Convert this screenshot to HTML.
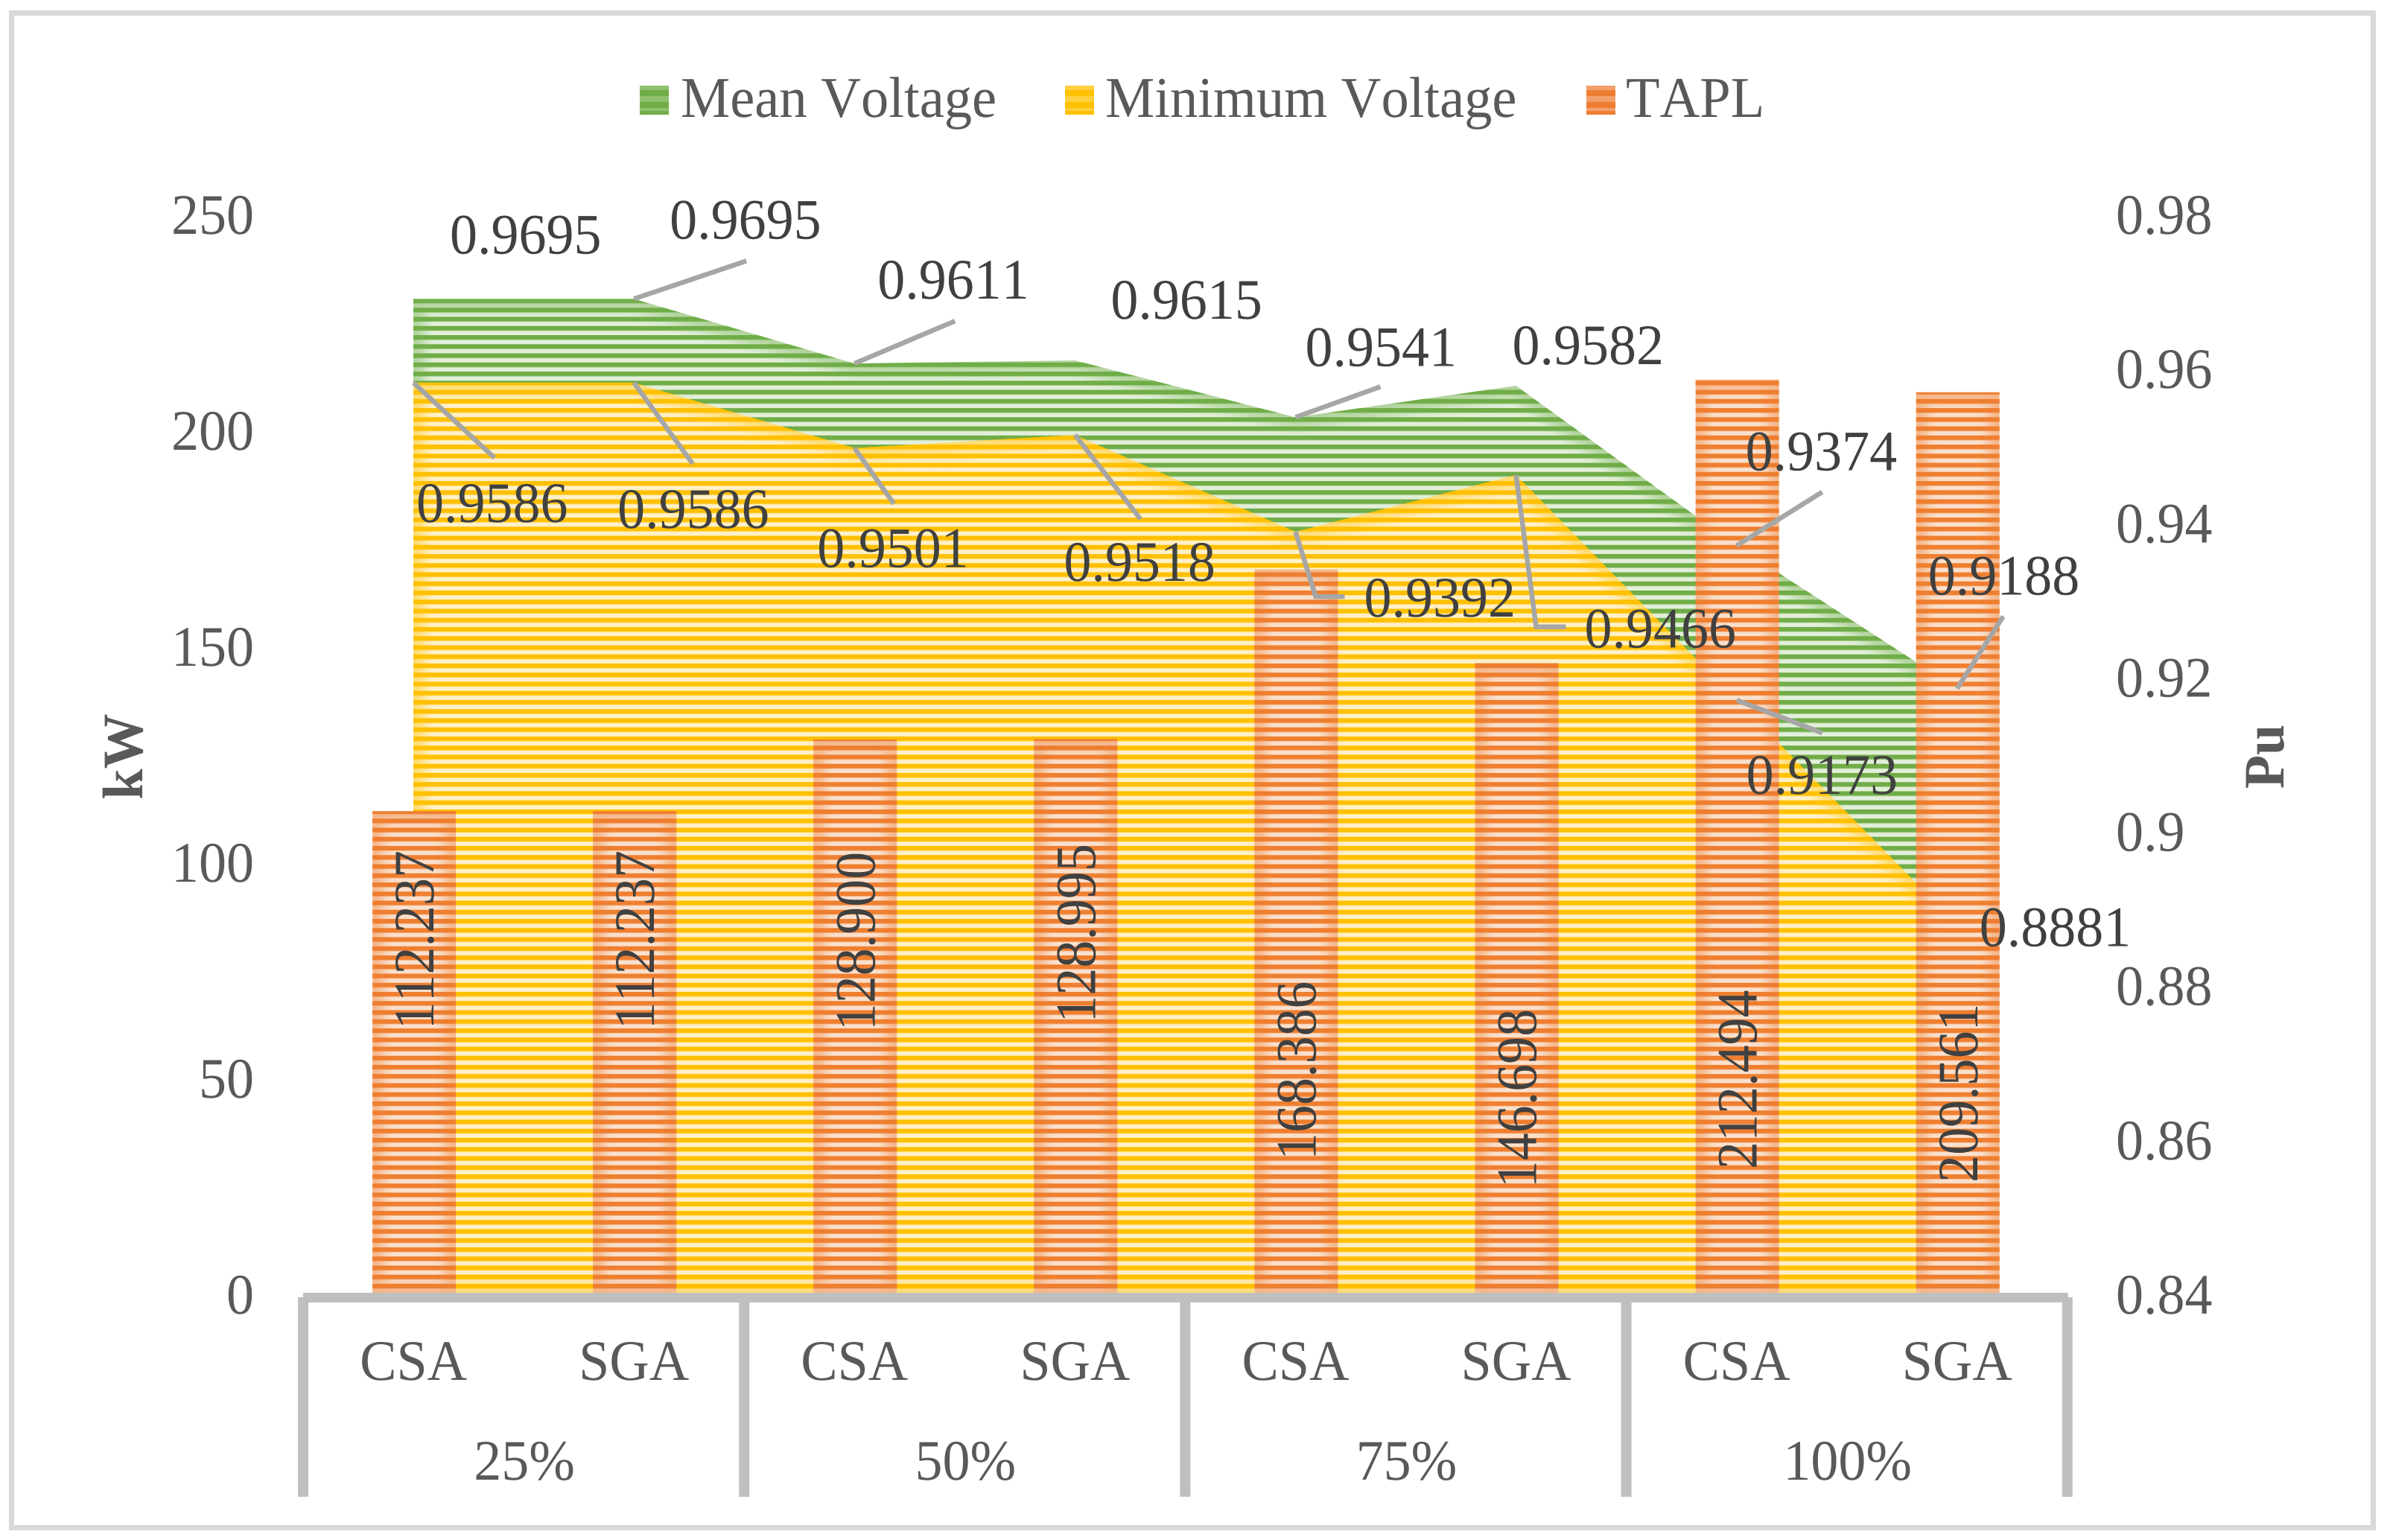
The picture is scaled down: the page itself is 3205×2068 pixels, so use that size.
<!DOCTYPE html>
<html lang="en">
<head>
<meta charset="utf-8">
<title>Mean Voltage, Minimum Voltage and TAPL</title>
<style>
html,body{margin:0;padding:0;background:#fff;}
svg{display:block;}
text{font-family:"Liberation Serif",serif;font-kerning:none;text-rendering:geometricPrecision;}
</style>
</head>
<body>
<svg id="chart" xmlns="http://www.w3.org/2000/svg" width="3205" height="2068" viewBox="0 0 3205 2068">
  <defs>
    <pattern id="stripe-green" patternUnits="userSpaceOnUse" x="0" y="9" width="20" height="12.25">
      <rect width="20" height="12.25" fill="#e2efda"/>
      <rect width="20" height="5.9" fill="#70ad47"/>
      <rect y="5.9" width="20" height="0.8" fill="#a9cf90"/>
    </pattern>
    <pattern id="stripe-yellow" patternUnits="userSpaceOnUse" x="0" y="9" width="20" height="12.25">
      <rect width="20" height="12.25" fill="#fff0c8"/>
      <rect width="20" height="5.9" fill="#ffc000"/>
      <rect y="5.9" width="20" height="0.8" fill="#ffd965"/>
    </pattern>
    <pattern id="stripe-orange" patternUnits="userSpaceOnUse" x="0" y="9" width="20" height="12.25">
      <rect width="20" height="12.25" fill="#fae0cd"/>
      <rect width="20" height="5.9" fill="#ef7f30"/>
      <rect y="5.9" width="20" height="0.8" fill="#f4b183"/>
    </pattern>
    <filter id="soft-edge" x="-30%" y="-30%" width="160%" height="160%">
      <feGaussianBlur stdDeviation="7"/>
    </filter>
  </defs>
  <rect x="15.5" y="17.5" width="3171" height="2034" fill="#ffffff" stroke="#d9d9d9" stroke-width="7"/>
  <g id="areas"></g>
  <g id="bars"></g>
  <g id="axis"></g>
  <g id="ticks"></g>
  <g id="leaders"></g>
  <g id="labels"></g>
  <g id="legend"></g>
</svg>
<script>
/* ---- chart data ---- */
const groups = ['25%', '50%', '75%', '100%'];
const methods = ['CSA', 'SGA', 'CSA', 'SGA', 'CSA', 'SGA', 'CSA', 'SGA'];
const meanVoltage = [0.9695, 0.9695, 0.9611, 0.9615, 0.9541, 0.9582, 0.9374, 0.9188];
const minVoltage = [0.9586, 0.9586, 0.9501, 0.9518, 0.9392, 0.9466, 0.9173, 0.8881];
const tapl = [112.237, 112.237, 128.900, 128.995, 168.386, 146.698, 212.494, 209.561];
const leftTicks = ['0', '50', '100', '150', '200', '250'];
const rightTicks = ['0.84', '0.86', '0.88', '0.9', '0.92', '0.94', '0.96', '0.98'];
const legendNames = ['Mean Voltage', 'Minimum Voltage', 'TAPL'];

/* ---- hand-placed label layout, relative to each mark ---- */
const meanLabelOffset = [[49,-61],[48,-81],[31,-87],[48,-56],[13,-69],[-5,-29],[12,-101],[-39,-126]];
const minLabelOffset = [[4,187],[-22,195],[-50,160],[-15,196],[92,114],[92,232],[13,126],[30,29]];
const meanLeaderOffset = [null,[[151,-51]],[[135,-57]],null,[[114,-41]],null,[[115,-72]],[[62,-97]]];
const minLeaderOffset = [[[109,101]],[[79,109]],[[53,75]],[[88,113]],[[27,87],[66,87]],[[27,204],[67,204]],[[115,44]],null];
const barLabelDrop = [173,173,271,261,673,585,940,941];

/* ---- scales ---- */
const NS = 'http://www.w3.org/2000/svg';
const X0 = 407, STEP = 296.1, Y0 = 1738, PLOT_H = 1445;
const FONT = 74, STRETCH = 1.04;
const xCat = i => X0 + STEP * (i + 0.5);
const yLeft = v => Y0 - (v / 250) * PLOT_H;
const yRight = v => Y0 - ((v - 0.84) / 0.14) * PLOT_H;

function mk(tag, attrs, parent) {
  const el = document.createElementNS(NS, tag);
  for (const k in attrs) el.setAttribute(k, attrs[k]);
  parent.appendChild(el);
  return el;
}
function txt(str, x, y, size, fill, parent, opt) {
  opt = opt || {};
  const t = opt.rotate ? `translate(${x} ${y}) rotate(-90) scale(1 ${STRETCH})` : `translate(${x} ${y}) scale(1 ${STRETCH})`;
  const el = mk('text', {transform: t, 'font-size': size, fill: fill, 'text-anchor': opt.anchor || 'start', 'font-weight': opt.weight || 'normal'}, parent);
  el.textContent = str;
  return el;
}
function softEdge(id, shapeTag, shapeAttrs, color, parent) {
  const clip = mk('clipPath', {id: id}, document.querySelector('defs'));
  mk(shapeTag, shapeAttrs, clip);
  const g = mk('g', {'clip-path': `url(#${id})`}, parent);
  
  
  const glow = Object.assign({}, shapeAttrs, {fill: 'none', stroke: color, 'stroke-width': 30, 'stroke-opacity': 0.42, filter: 'url(#soft-edge)'});
  mk(shapeTag, glow, g);
}

/* ---- areas ---- */
const areasG = document.getElementById('areas');
function areaPath(series) {
  let d = `M${xCat(0)} ${Y0}`;
  series.forEach((v, i) => { d += ` L${xCat(i)} ${yRight(v)}`; });
  return d + ` L${xCat(series.length - 1)} ${Y0} Z`;
}
const meanArea = mk('path', {d: areaPath(meanVoltage), fill: 'url(#stripe-green)'}, areasG);


softEdge('clip-mean', 'path', {d: areaPath(meanVoltage)}, '#70ad47', areasG);
const minArea = mk('path', {d: areaPath(minVoltage), fill: 'url(#stripe-yellow)'}, areasG);


softEdge('clip-min', 'path', {d: areaPath(minVoltage)}, '#ffc000', areasG);

/* ---- bars ---- */
const barsG = document.getElementById('bars');
const BAR_W = 112;
tapl.forEach((v, i) => {
  const attrs = {x: xCat(i) + 1 - BAR_W / 2, y: yLeft(v), width: BAR_W, height: Y0 - yLeft(v)};
  const bar = mk('rect', Object.assign({fill: 'url(#stripe-orange)'}, attrs), barsG);
  
  
  softEdge('clip-bar-' + i, 'rect', attrs, '#ed7d31', barsG);
});

/* ---- category axis ---- */
const axisG = document.getElementById('axis');
const axisLine = mk('rect', {x: X0, y: 1736, width: STEP * 8 + 1, height: 13, fill: '#bfbfbf'}, axisG);


for (let g = 0; g <= groups.length; g++) {
  const div = mk('rect', {x: X0 + g * STEP * 2 - 7, y: 1742, width: 14, height: 268, fill: '#bfbfbf'}, axisG);
  
  
}
methods.forEach((m, i) => {
  const t = txt(m, xCat(i), 1853, FONT, '#595959', axisG, {anchor: 'middle'});
  
  
});
groups.forEach((g, i) => {
  const t = txt(g, X0 + STEP * (2 * i + 1) + 1, 1987, FONT, '#595959', axisG, {anchor: 'middle'});
  
  
});

/* ---- value axes ---- */
const ticksG = document.getElementById('ticks');
leftTicks.forEach(s => {
  const t = txt(s, 341, yLeft(+s) + 26 - 5 * (+s / 250), FONT, '#595959', ticksG, {anchor: 'end'});
  
  
});
rightTicks.forEach(s => {
  const t = txt(s, 2841, yRight(+s) + 26 - 5 * ((+s - 0.84) / 0.14), FONT, '#595959', ticksG);
  
  
});
const kw = txt('kW', 191, 1016, FONT, '#595959', ticksG, {anchor: 'middle', rotate: true, weight: 'bold'});


const pu = txt('Pu', 3066, 1016, FONT, '#595959', ticksG, {anchor: 'middle', rotate: true, weight: 'bold'});



/* ---- leader lines and data labels ---- */
const leadersG = document.getElementById('leaders');
const labelsG = document.getElementById('labels');
function drawLeader(x, y, offsets) {
  if (!offsets) return;
  const pts = [[x, y]].concat(offsets.map(o => [x + o[0], y + o[1]]));
  const line = mk('polyline', {points: pts.map(p => p.join(',')).join(' '), fill: 'none', stroke: '#a6a6a6', 'stroke-width': 6.5}, leadersG);
  
  
}
meanVoltage.forEach((v, i) => {
  const x = xCat(i), y = yRight(v);
  drawLeader(x, y, meanLeaderOffset[i]);
  const t = txt(v.toFixed(4), x + meanLabelOffset[i][0], y + meanLabelOffset[i][1], FONT, '#404040', labelsG);
  
  
});
minVoltage.forEach((v, i) => {
  const x = xCat(i), y = yRight(v);
  drawLeader(x, y, minLeaderOffset[i]);
  const t = txt(v.toFixed(4), x + minLabelOffset[i][0], y + minLabelOffset[i][1], FONT, '#404040', labelsG);
  
  
});
tapl.forEach((v, i) => {
  const t = txt(v.toFixed(3), xCat(i) + 27, yLeft(v) + barLabelDrop[i], FONT, '#404040', labelsG, {anchor: 'middle', rotate: true});
  
  
});

/* ---- legend ---- */
const legendG = document.getElementById('legend');
const swatchDark = ['#70ad47', '#ffc000', '#ed7d31'];
const swatchLight = ['#8fc06e', '#ffcf3f', '#f3a16c'];
const swatchX = [859, 1430, 2130];
const legendTextX = [914, 1484, 2183];
legendNames.forEach((name, i) => {
  const entry = mk('g', {}, legendG);
  
  
  const sw = mk('rect', {x: swatchX[i], y: 115, width: 39, height: 39, fill: swatchDark[i]}, entry);
  
  
  [115, 129, 145].forEach((sy, k) => {
    const s = mk('rect', {x: swatchX[i], y: sy, width: 39, height: [6, 8, 4][k], fill: swatchLight[i]}, entry);
    
    
  });
  const t = txt(name, legendTextX[i], 157, 74.5, '#595959', entry);
  
  
});
</script>
</body>
</html>
